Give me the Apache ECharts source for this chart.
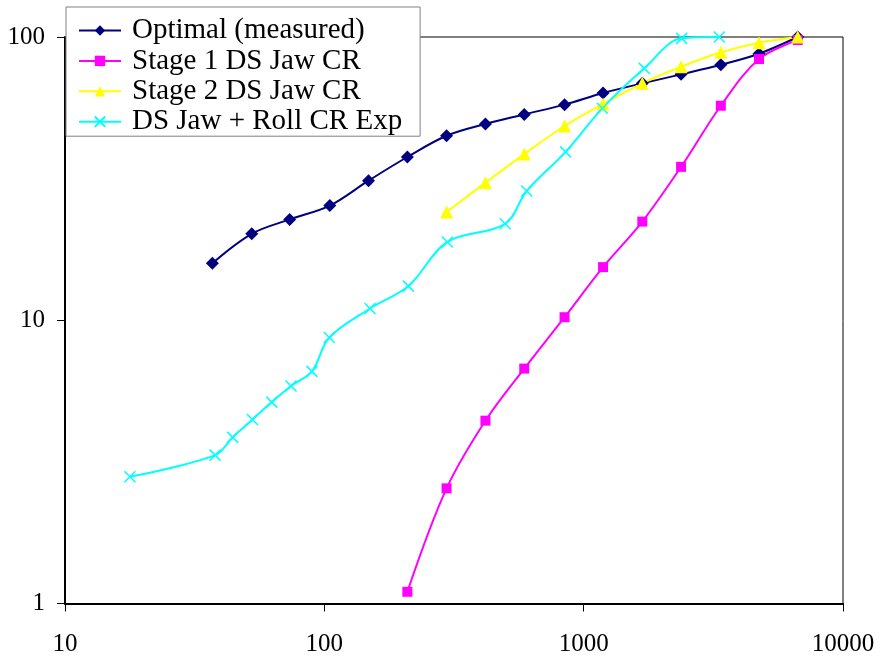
<!DOCTYPE html>
<html>
<head>
<meta charset="utf-8">
<script src="https://cdn.jsdelivr.net/npm/echarts@6/dist/echarts.min.js"></script>
<style>
  html, body { margin: 0; padding: 0; background: #fff; }
  #chart { width: 882px; height: 667px; }
</style>
</head>
<body>
<div id="chart"></div>
<script>
// Shared sample sizes (roughly sqrt(2) steps) used by the three measured/stage series
const sampleSizes = [37, 52.5, 73.5, 105, 148, 209, 296, 418, 590, 844, 1188, 1683, 2375, 3380, 4744, 6690];

// Optimal (measured)
const optimalValues = [15.9, 20.2, 22.7, 25.4, 31.1, 37.7, 44.8, 49.3, 53.3, 57.7, 63.4, 68.6, 73.8, 79.8, 87.3, 100];

// Stage 1 DS Jaw CR (starts at the 6th sample size)
const stage1Sizes = sampleSizes.slice(5);
const stage1Values = [1.10, 2.55, 4.42, 6.75, 10.25, 15.4, 22.3, 34.8, 57.2, 83.6, 97.5];

// Stage 2 DS Jaw CR (starts at the 7th sample size)
const stage2Sizes = sampleSizes.slice(6);
const stage2Values = [24.1, 30.6, 38.6, 48.5, 58.0, 68.6, 78.5, 88.3, 95.5, 100];

// DS Jaw + Roll CR Exp
const rollSizes = [17.8, 37.9, 44.3, 52.8, 62.7, 74.4, 89.6, 104.5, 150, 211, 298, 498, 603, 852, 1180, 1713, 2388, 3335];
const rollValues = [2.80, 3.34, 3.86, 4.46, 5.14, 5.86, 6.60, 8.69, 11.0, 13.2, 18.9, 21.9, 28.6, 39.3, 56.0, 77.5, 98.9, 100];

const seriesNames = ['Optimal (measured)', 'Stage 1 DS Jaw CR', 'Stage 2 DS Jaw CR', 'DS Jaw + Roll CR Exp'];
const xTicks = [10, 100, 1000, 10000];
const yTicks = [1, 10, 100];

const pair = (xs, ys) => xs.map((x, i) => [x, ys[i]]);
const FONT = '"Liberation Serif", "Times New Roman", serif';
const CROSS = 'path://M0,0L10,10M10,0L0,10';

function lineSeries(name, data, color, symbol, size, extra) {
  return Object.assign({
    name: name,
    type: 'line',
    data: data,
    smooth: 0.35,
    symbol: symbol,
    symbolSize: size,
    showAllSymbol: true,
    lineStyle: { color: color, width: 2 },
    itemStyle: { color: color },
    emphasis: { disabled: true }
  }, extra || {});
}

const chart = echarts.init(document.getElementById('chart'), null, { renderer: 'canvas' });
chart.setOption({
  animation: false,
  backgroundColor: '#fff',
  textStyle: { fontFamily: FONT },
  grid: {
    left: 65, right: 39, top: 37, bottom: 63.5,
    show: true, borderColor: '#000', borderWidth: 1, backgroundColor: 'transparent'
  },
  legend: {
    data: seriesNames,
    orient: 'vertical',
    left: 66, top: 7,
    padding: [9, 18, 0, 12],
    itemWidth: 42, itemHeight: 13, itemGap: 1.4,
    backgroundColor: '#fff',
    borderColor: '#808080', borderWidth: 1,
    z: 10,
    textStyle: { fontFamily: FONT, fontSize: 29, color: '#000', lineHeight: 26, padding: [0, 0, 0, 6] }
  },
  xAxis: {
    type: 'log', logBase: 10, min: xTicks[0], max: xTicks[xTicks.length - 1],
    axisLine: { lineStyle: { color: '#000', width: 2 } },
    axisTick: { show: true, inside: false, length: 8, lineStyle: { color: '#000', width: 1 } },
    minorTick: { show: false },
    splitLine: { show: false },
    axisLabel: { fontFamily: FONT, fontSize: 25, color: '#000', margin: 28, formatter: v => String(Math.round(v)) }
  },
  yAxis: {
    type: 'log', logBase: 10, min: yTicks[0], max: yTicks[yTicks.length - 1],
    axisLine: { show: true, lineStyle: { color: '#000', width: 2 } },
    axisTick: { show: true, inside: false, length: 8, lineStyle: { color: '#000', width: 1 } },
    splitLine: { show: false },
    axisLabel: { fontFamily: FONT, fontSize: 25, color: '#000', margin: 20, formatter: v => String(Math.round(v)) }
  },
  series: [
    lineSeries(seriesNames[0], pair(sampleSizes, optimalValues), '#000080', 'diamond', [13, 13]),
    lineSeries(seriesNames[1], pair(stage1Sizes, stage1Values), '#FF00FF', 'rect', 10),
    lineSeries(seriesNames[2], pair(stage2Sizes, stage2Values), '#FFFF00', 'triangle', 13),
    lineSeries(seriesNames[3], pair(rollSizes, rollValues), '#00FFFF', CROSS, 11, {
      itemStyle: { color: '#00FFFF', borderColor: '#00FFFF', borderWidth: 1.5 }
    })
  ]
});
</script>
</body>
</html>
